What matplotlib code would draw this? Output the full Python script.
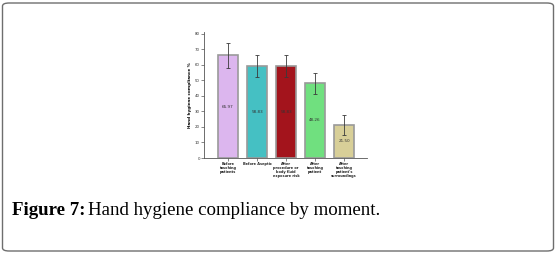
import matplotlib
matplotlib.use("Agg")
import matplotlib.pyplot as plt
from matplotlib.patches import FancyBboxPatch

categories = ["Before\ntouching\npatients", "Before Aseptic",
              "After\nprocedure or\nbody fluid\nexposure risk",
              "After\ntouching\npatient",
              "After\ntouching\npatient's\nsurroundings"]
values = [66.0, 59.0, 59.0, 48.5, 21.3]
err_low = [58.1, 51.9, 51.9, 41.4, 14.6]
err_high = [74.0, 66.5, 66.5, 54.9, 27.9]
labels = ["65.97", "58.83", "58.83", "48.26", "21.50"]
colors = ["#dcb6ee", "#45c0c3", "#a3141c", "#70e07f", "#d8cf98"]
yticks = [0, 10, 20, 30, 40, 50, 60, 70, 80]

fig = plt.figure(figsize=(5.6, 2.56), dpi=100)
fig.patch.set_facecolor("white")

# frame
frame = FancyBboxPatch((2.5/560, 5/256), 551/560, 248/256,
                       boxstyle="round,pad=0,rounding_size=0.012",
                       transform=fig.transFigure, fill=False,
                       edgecolor="#6e6e6e", linewidth=1.0)
fig.patches.append(frame)

ax = fig.add_axes([204/560, 98/256, 163/560, 126/256])
x = list(range(len(values)))
ax.bar(x, values, width=0.69, color=colors, edgecolor="#9a9a9a", linewidth=1.2, zorder=2)
lo = [v - l for v, l in zip(values, err_low)]
hi = [h - v for v, h in zip(values, err_high)]
ax.errorbar(x, values, yerr=[lo, hi], fmt="none", ecolor="#3a3a3a",
            elinewidth=0.6, capsize=1.5, capthick=0.6, zorder=3)
for xi, v, t in zip(x, values, labels):
    ax.text(xi, v / 2, t, ha="center", va="center", fontsize=3.0,
            color="#333333", zorder=4)

ax.set_xlim(-0.83, 4.79)
ax.set_ylim(0, 81)
ax.set_yticks(yticks)
ax.set_yticklabels([str(t) for t in yticks], fontsize=2.8, color="#333333")
ax.set_xticks(x)
ax.set_xticklabels(categories, fontsize=2.5, fontweight="bold", color="#222222",
                   linespacing=1.0)
ax.tick_params(axis="both", length=2, width=0.5, pad=1, color="#555555")
ax.set_ylabel("Hand hygiene compliance %", fontsize=3.0, fontweight="bold",
              labelpad=2)
for s in ["top", "right"]:
    ax.spines[s].set_visible(False)
for s in ["left", "bottom"]:
    ax.spines[s].set_linewidth(0.6)
    ax.spines[s].set_color("#555555")

t1 = fig.text(12/560, 1 - 215/256, "Figure 7:", fontsize=13.6, fontweight="bold",
              family="Liberation Serif", va="baseline", ha="left")
fig.canvas.draw()
bb = t1.get_window_extent(fig.canvas.get_renderer())
x2 = (bb.x1 + 3) / fig.bbox.width
fig.text(x2, 1 - 215/256, "Hand hygiene compliance by moment.", fontsize=13.6,
         family="Liberation Serif", va="baseline", ha="left")

fig.savefig("out.png", dpi=100)
